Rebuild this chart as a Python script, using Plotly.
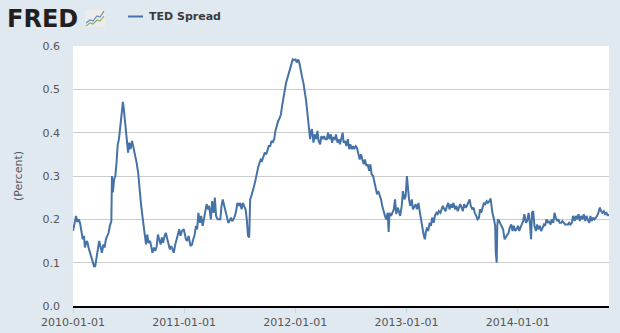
import pandas as pd
import plotly.graph_objects as go

# TED Spread observations: days after 2010-01-01 and value in percent
obs_day = [
    0, 7, 10, 14, 19, 23, 27, 32, 36, 39, 45, 48, 51, 56, 60, 65, 69, 73, 78, 82,
    86, 91, 95, 100, 104, 108, 113, 117, 121, 126, 128, 131, 135, 139, 143, 147, 151, 154, 158, 161,
    164, 167, 172, 176, 181, 185, 189, 194, 198, 203, 209, 214, 219, 223, 228, 231, 235, 240, 244, 248,
    253, 257, 261, 266, 270, 275, 279, 283, 288, 292, 296, 301, 305, 310, 314, 318, 323, 327, 331, 336,
    340, 345, 349, 353, 358, 364, 371, 375, 380, 386, 391, 395, 399, 404, 408, 412, 417, 421, 426, 430,
    434, 439, 443, 447,
    453, 457, 462, 466, 470, 475, 479, 484, 488, 492, 497, 501, 505, 510, 514, 519, 523, 527, 532, 536,
    540, 545, 549, 554, 558, 562, 567, 571, 575, 579, 582, 586, 591, 595, 600, 604, 608, 613, 617, 621,
    626, 630, 635, 639, 643, 648, 652, 656, 661, 665, 670, 674, 678, 683, 687, 691, 696, 700, 705, 709,
    713, 718, 722, 726, 731, 735, 740, 744, 748, 753, 757, 761, 766, 770, 775, 779, 781, 785, 790, 794,
    799, 803, 807, 812, 816, 820, 825, 829, 834, 838, 842, 847, 851, 855, 860, 864, 869, 873, 877, 882,
    886,
    889, 894, 898, 903, 907, 911, 916, 920, 924, 929, 933, 938, 942, 946, 951, 955, 959, 964, 968, 973,
    977, 981, 986, 990, 994, 999, 1003, 1008, 1012, 1016, 1021, 1025, 1029, 1034, 1037, 1040, 1045, 1049, 1054, 1058,
    1062, 1067, 1071, 1075, 1080, 1084, 1089, 1093, 1097, 1101, 1104, 1108, 1113, 1117, 1121, 1126, 1130, 1135, 1139, 1143,
    1147, 1152, 1156, 1159, 1163, 1167, 1172, 1176, 1180, 1185, 1189, 1194, 1198, 1202, 1207, 1211, 1215, 1220, 1224, 1229,
    1233, 1237, 1242, 1246, 1250, 1255, 1259, 1264, 1268, 1272, 1277, 1281, 1285, 1290, 1294, 1299, 1303, 1307, 1312, 1316,
    1320, 1325, 1329, 1334,
    1337, 1341, 1346, 1350, 1354, 1359, 1363, 1368, 1372, 1374, 1378, 1383, 1387, 1389, 1392, 1394, 1396, 1400, 1405, 1409,
    1413, 1418, 1422, 1427, 1431, 1435, 1440, 1444, 1448, 1453, 1457, 1462, 1466, 1470, 1475, 1479, 1483, 1488, 1492, 1497,
    1501, 1505, 1508, 1512, 1516, 1521, 1525, 1529, 1534, 1538, 1543, 1547, 1551, 1556, 1560, 1564, 1569, 1573, 1578, 1582,
    1586, 1591, 1595, 1599, 1604, 1608, 1613, 1617, 1621, 1626, 1630, 1634, 1639, 1643, 1648, 1652, 1656, 1661, 1665, 1669,
    1674, 1678, 1683, 1687, 1691, 1696, 1700, 1704, 1709, 1713, 1718, 1722, 1726, 1731, 1735, 1739, 1744, 1748, 1753, 1757,
    1760,
]

ted_spread = [
    0.173, 0.200, 0.208, 0.194, 0.200, 0.192, 0.177, 0.154, 0.162, 0.135, 0.150, 0.146, 0.135, 0.123, 0.115, 0.104, 0.092, 0.092, 0.115, 0.135,
    0.150, 0.135, 0.123, 0.142, 0.135, 0.154, 0.162, 0.169, 0.185, 0.196, 0.300, 0.262, 0.292, 0.300, 0.331, 0.373, 0.385, 0.408, 0.431, 0.450,
    0.471, 0.454, 0.423, 0.400, 0.354, 0.377, 0.362, 0.381, 0.369, 0.354, 0.331, 0.308, 0.262, 0.238, 0.208, 0.185, 0.169, 0.142, 0.165, 0.146,
    0.150, 0.138, 0.123, 0.135, 0.127, 0.138, 0.165, 0.154, 0.142, 0.158, 0.146, 0.162, 0.169, 0.154, 0.142, 0.131, 0.138, 0.131, 0.123, 0.142,
    0.154, 0.162, 0.177, 0.162, 0.173, 0.177, 0.154, 0.150, 0.162, 0.138, 0.142, 0.154, 0.162, 0.185, 0.177, 0.215, 0.192, 0.208, 0.185, 0.200,
    0.215, 0.235, 0.223, 0.231,
    0.200, 0.242, 0.215, 0.250, 0.208, 0.200, 0.200, 0.200, 0.231, 0.246, 0.231, 0.215, 0.208, 0.192, 0.196, 0.204, 0.196, 0.200, 0.208, 0.219,
    0.238, 0.231, 0.238, 0.223, 0.238, 0.231, 0.223, 0.200, 0.162, 0.158, 0.246, 0.254, 0.265, 0.277, 0.292, 0.308, 0.319, 0.331, 0.338, 0.335,
    0.346, 0.354, 0.350, 0.362, 0.369, 0.369, 0.381, 0.377, 0.385, 0.404, 0.419, 0.427, 0.432, 0.442, 0.462, 0.481, 0.496, 0.515, 0.527, 0.538,
    0.550, 0.562, 0.569, 0.568, 0.569, 0.562, 0.569, 0.560, 0.542, 0.527, 0.515, 0.500, 0.473, 0.446, 0.415, 0.385, 0.400, 0.408, 0.377, 0.396,
    0.385, 0.404, 0.381, 0.373, 0.392, 0.385, 0.392, 0.385, 0.385, 0.400, 0.385, 0.396, 0.377, 0.388, 0.385, 0.396, 0.377, 0.385, 0.373, 0.388,
    0.400,
    0.377, 0.381, 0.369, 0.385, 0.362, 0.373, 0.362, 0.369, 0.362, 0.369, 0.365, 0.350, 0.338, 0.350, 0.335, 0.327, 0.338, 0.323, 0.327, 0.312,
    0.327, 0.304, 0.300, 0.285, 0.269, 0.258, 0.265, 0.254, 0.246, 0.231, 0.215, 0.208, 0.200, 0.215, 0.171, 0.215, 0.208, 0.215, 0.223, 0.246,
    0.212, 0.227, 0.215, 0.208, 0.231, 0.265, 0.246, 0.254, 0.300, 0.262, 0.246, 0.231, 0.246, 0.223, 0.227, 0.235, 0.223, 0.238, 0.219, 0.196,
    0.185, 0.165, 0.154, 0.169, 0.181, 0.173, 0.192, 0.185, 0.204, 0.192, 0.208, 0.215, 0.212, 0.219, 0.215, 0.223, 0.231, 0.223, 0.219, 0.231,
    0.238, 0.223, 0.235, 0.227, 0.238, 0.223, 0.231, 0.219, 0.227, 0.235, 0.227, 0.219, 0.235, 0.227, 0.231, 0.238, 0.246, 0.231, 0.223, 0.227,
    0.215, 0.208, 0.200, 0.204,
    0.223, 0.215, 0.231, 0.238, 0.235, 0.242, 0.238, 0.242, 0.248, 0.235, 0.215, 0.200, 0.185, 0.123, 0.100, 0.185, 0.200, 0.196, 0.188, 0.185,
    0.177, 0.154, 0.158, 0.165, 0.169, 0.181, 0.188, 0.173, 0.185, 0.173, 0.177, 0.185, 0.173, 0.181, 0.192, 0.196, 0.212, 0.192, 0.196, 0.215,
    0.192, 0.154, 0.215, 0.219, 0.185, 0.173, 0.188, 0.177, 0.185, 0.173, 0.181, 0.188, 0.185, 0.200, 0.192, 0.196, 0.188, 0.200, 0.192, 0.215,
    0.204, 0.196, 0.200, 0.192, 0.192, 0.196, 0.192, 0.188, 0.188, 0.188, 0.192, 0.188, 0.192, 0.208, 0.196, 0.208, 0.200, 0.212, 0.196, 0.208,
    0.200, 0.212, 0.196, 0.208, 0.200, 0.192, 0.208, 0.196, 0.204, 0.200, 0.204, 0.208, 0.215, 0.227, 0.219, 0.215, 0.219, 0.212, 0.215, 0.208,
    0.212,
]

year_ticks = ["2010-01-01", "2011-01-01", "2012-01-01", "2013-01-01", "2014-01-01"]
series_name = "TED Spread"
y_title = "(Percent)"

start = pd.Timestamp("2010-01-01")
dates = start + pd.to_timedelta(obs_day, unit="D")

BG = "#e1e9f0"
LINE = "#4572a7"
W, H = 620, 333
ML, MR, MT, MB = 73, 11, 46, 27
PW, PH = W - ML - MR, H - MT - MB


def px(x):
    return (x - ML) / PW


def py(y):
    return (H - MB - y) / PH


fig = go.Figure(
    go.Scatter(
        x=dates,
        y=ted_spread,
        mode="lines",
        line=dict(color=LINE, width=2),
        name=series_name,
        hoverinfo="x+y",
    )
)

shapes = [
    # legend swatch
    dict(type="line", xref="paper", yref="paper", x0=px(128), x1=px(143), y0=py(16.5), y1=py(16.5),
         line=dict(color=LINE, width=2)),
    # small logo graph icon
    dict(type="rect", xref="paper", yref="paper", x0=px(85), x1=px(105), y0=py(27), y1=py(10),
         fillcolor="#ececec", line=dict(width=0), layer="above"),
    dict(type="path", xref="paper", yref="paper",
         path="M {} {} L {} {} L {} {} L {} {} L {} {} L {} {}".format(
             px(86), py(23), px(90), py(20), px(93), py(21), px(97), py(16), px(100), py(17), px(104), py(11)),
         line=dict(color="#6a8cbf", width=1.2), layer="above"),
    dict(type="path", xref="paper", yref="paper",
         path="M {} {} L {} {} L {} {} L {} {} L {} {} L {} {}".format(
             px(86), py(26), px(90), py(23), px(93), py(24), px(97), py(20), px(100), py(21), px(104), py(16)),
         line=dict(color="#8db36a", width=1.2), layer="above"),
]

annotations = [
    dict(text="<b>FRED</b>", xref="paper", yref="paper", x=px(5), y=py(19), xanchor="left", yanchor="middle",
         showarrow=False, font=dict(family="DejaVu Sans", size=24, color="#231f20")),
    dict(text="<b>" + series_name + "</b>", xref="paper", yref="paper", x=px(147), y=py(17),
         xanchor="left", yanchor="middle", showarrow=False,
         font=dict(family="DejaVu Sans", size=11, color="#3a3a3a")),
]

fig.update_layout(
    width=W,
    height=H,
    margin=dict(l=ML, r=MR, t=MT, b=MB, pad=0, autoexpand=False),
    paper_bgcolor=BG,
    plot_bgcolor="white",
    showlegend=False,
    font=dict(family="DejaVu Sans", size=11, color="#555555"),
    shapes=shapes,
    annotations=annotations,
    xaxis=dict(
        type="date",
        automargin=False,
        range=["2010-01-01", "2014-10-28"],
        tickvals=year_ticks,
        ticktext=year_ticks,
        ticks="outside",
        ticklen=5,
        tickcolor="#c4d4e2",
        tickwidth=1,
        showgrid=False,
        showline=True,
        linecolor="#000000",
        linewidth=2,
        zeroline=False,
        tickfont=dict(size=11, color="#555555"),
    ),
    yaxis=dict(
        automargin=False,
        range=[0, 0.6],
        dtick=0.1,
        tickformat=".1f",
        showgrid=True,
        gridcolor="#cccccc",
        gridwidth=1,
        zeroline=False,
        showline=False,
        ticks="",
        ticklabelstandoff=12,
        tickfont=dict(size=11, color="#555555"),
        title=dict(text=y_title, font=dict(size=11, color="#555555"), standoff=17),
    ),
)

fig.write_html("out.html")
